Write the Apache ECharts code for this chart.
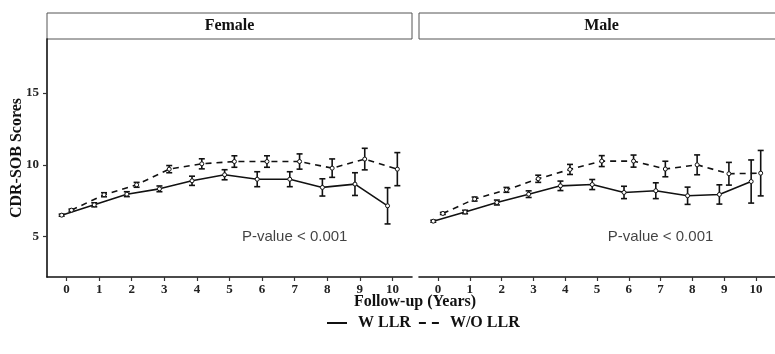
<!DOCTYPE html>
<html>
<head>
<meta charset="utf-8">
<script src="https://cdn.jsdelivr.net/npm/echarts@6/dist/echarts.min.js"></script>
<style>
  html, body { margin: 0; padding: 0; background: #fff; }
  #chart { width: 775px; height: 354px; }
</style>
</head>
<body>
<div id="chart"></div>
<script>
// follow-up years and dodge offset between the two groups
const years = [0, 1, 2, 3, 4, 5, 6, 7, 8, 9, 10];
const dodge = 0.15;

// Female
const femaleWith = [6.50, 7.22, 7.96, 8.33, 8.89, 9.31, 9.00, 9.00, 8.43, 8.66, 7.15];
const femaleWithErr = [0.07, 0.14, 0.17, 0.20, 0.32, 0.35, 0.52, 0.52, 0.60, 0.79, 1.26];
const femaleWithout = [6.85, 7.92, 8.61, 9.70, 10.07, 10.23, 10.23, 10.23, 9.77, 10.40, 9.70];
const femaleWithoutErr = [0.07, 0.14, 0.17, 0.25, 0.35, 0.40, 0.40, 0.53, 0.64, 0.75, 1.15];

// Male
const maleWith = [6.08, 6.72, 7.38, 7.96, 8.54, 8.63, 8.08, 8.20, 7.85, 7.94, 8.84];
const maleWithErr = [0.07, 0.12, 0.17, 0.23, 0.33, 0.35, 0.43, 0.55, 0.60, 0.67, 1.50];
const maleWithout = [6.62, 7.62, 8.26, 9.03, 9.68, 10.26, 10.26, 9.71, 10.00, 9.38, 9.42];
const maleWithoutErr = [0.07, 0.14, 0.17, 0.25, 0.35, 0.38, 0.42, 0.54, 0.69, 0.79, 1.58];

const yTicks = [5, 10, 15];
const pLabel = 'P-value < 0.001';
const pPos = [7, 5];

const serif = 'Liberation Serif';
const sans = 'Liberation Sans';

const chart = echarts.init(document.getElementById('chart'));

function pts(vals, shift) {
  return vals.map((v, i) => [years[i] + shift, v]);
}
function errPts(vals, errs, shift) {
  return vals.map((v, i) => [years[i] + shift, v, errs[i]]);
}

function errorBars(params, api) {
  const x = api.value(0), y = api.value(1), e = api.value(2);
  const top = api.coord([x, y + e]);
  const bot = api.coord([x, y - e]);
  const hw = 3;
  const st = { stroke: '#111', lineWidth: 1.6 };
  return {
    type: 'group',
    children: [
      { type: 'line', shape: { x1: top[0], y1: top[1], x2: bot[0], y2: bot[1] }, style: st },
      { type: 'line', shape: { x1: top[0] - hw, y1: top[1], x2: top[0] + hw, y2: top[1] }, style: st },
      { type: 'line', shape: { x1: bot[0] - hw, y1: bot[1], x2: bot[0] + hw, y2: bot[1] }, style: st }
    ]
  };
}

function panelSeries(idx, withVals, withErr, withoutVals, withoutErr) {
  const common = {
    type: 'line',
    xAxisIndex: idx,
    yAxisIndex: idx,
    symbol: 'circle',
    symbolSize: 4,
    itemStyle: { color: '#fff', borderColor: '#111', borderWidth: 1 },
    z: 3
  };
  return [
    { type: 'custom', xAxisIndex: idx, yAxisIndex: idx, renderItem: errorBars,
      data: errPts(withVals, withErr, -dodge), z: 2, silent: true },
    { type: 'custom', xAxisIndex: idx, yAxisIndex: idx, renderItem: errorBars,
      data: errPts(withoutVals, withoutErr, dodge), z: 2, silent: true },
    Object.assign({}, common, {
      name: 'W LLR',
      data: pts(withVals, -dodge),
      lineStyle: { color: '#111', width: 1.6 }
    }),
    Object.assign({}, common, {
      name: 'W/O LLR',
      data: pts(withoutVals, dodge),
      lineStyle: { color: '#111', width: 1.6, type: [6, 5] }
    }),
    {
      type: 'scatter', xAxisIndex: idx, yAxisIndex: idx,
      symbolSize: 0, silent: true,
      data: [pPos],
      label: {
        show: true, position: 'inside', formatter: pLabel,
        fontFamily: sans, fontSize: 15, color: '#111'
      }
    }
  ];
}

function xAxisCfg(idx) {
  return {
    type: 'value', gridIndex: idx, min: -0.6, max: 10.6,
    axisLine: { show: true, onZero: false, lineStyle: { color: '#111', width: 1.6 } },
    axisTick: { show: true, length: 4, customValues: years, lineStyle: { color: '#333', width: 1.2 } },
    axisLabel: { customValues: years, margin: 6, fontFamily: serif, fontWeight: 'bold', fontSize: 13, color: '#222' },
    splitLine: { show: false }
  };
}

const option = {
  animation: false,
  backgroundColor: '#fff',
  grid: [
    { left: 47, top: 39, width: 365, height: 238 },
    { left: 419, top: 39, width: 365, height: 238 }
  ],
  xAxis: [xAxisCfg(0), xAxisCfg(1)],
  yAxis: [
    {
      type: 'value', gridIndex: 0, min: 2.2, max: 18.75,
      name: 'CDR-SOB Scores', nameLocation: 'middle', nameGap: 22, nameMoveOverlap: false,
      nameTextStyle: { fontFamily: serif, fontWeight: 'bold', fontSize: 16, color: '#111' },
      axisLine: { show: true, onZero: false, lineStyle: { color: '#111', width: 1.6 } },
      axisTick: { show: true, length: 4, customValues: yTicks, lineStyle: { color: '#333', width: 1.2 } },
      axisLabel: { customValues: yTicks, margin: 8, fontFamily: serif, fontWeight: 'bold', fontSize: 13, color: '#222' },
      splitLine: { show: false }
    },
    {
      type: 'value', gridIndex: 1, min: 2.2, max: 18.75,
      axisLine: { show: false }, axisTick: { show: false }, axisLabel: { show: false },
      splitLine: { show: false }
    }
  ],
  legend: {
    left: 322, top: 310,
    itemWidth: 20, itemHeight: 2, itemGap: 8,
    textStyle: { fontFamily: serif, fontWeight: 'bold', fontSize: 16, color: '#111', padding: [0, 0, 0, 6] },
    data: [
      { name: 'W LLR', icon: 'path://M0,0H20V2H0Z', itemStyle: { color: '#111', borderWidth: 0 } },
      { name: 'W/O LLR', icon: 'path://M0,0H7V2H0Z M13,0H20V2H13Z', itemStyle: { color: '#111', borderWidth: 0 } }
    ]
  },
  graphic: [
    { type: 'rect', shape: { x: 47, y: 13, width: 365, height: 26 },
      style: { fill: '#fff', stroke: '#555', lineWidth: 1 } },
    { type: 'text', x: 229.5, y: 26,
      style: { text: 'Female', fontFamily: serif, fontWeight: 'bold', fontSize: 16, fill: '#111',
               align: 'center', verticalAlign: 'middle' } },
    { type: 'rect', shape: { x: 419, y: 13, width: 365, height: 26 },
      style: { fill: '#fff', stroke: '#555', lineWidth: 1 } },
    { type: 'text', x: 601.5, y: 26,
      style: { text: 'Male', fontFamily: serif, fontWeight: 'bold', fontSize: 16, fill: '#111',
               align: 'center', verticalAlign: 'middle' } },
    { type: 'text', x: 415, y: 302,
      style: { text: 'Follow-up (Years)', fontFamily: serif, fontWeight: 'bold', fontSize: 16, fill: '#111',
               align: 'center', verticalAlign: 'middle' } }
  ],
  series: [].concat(
    panelSeries(0, femaleWith, femaleWithErr, femaleWithout, femaleWithoutErr),
    panelSeries(1, maleWith, maleWithErr, maleWithout, maleWithoutErr)
  )
};

chart.setOption(option);
</script>
</body>
</html>
